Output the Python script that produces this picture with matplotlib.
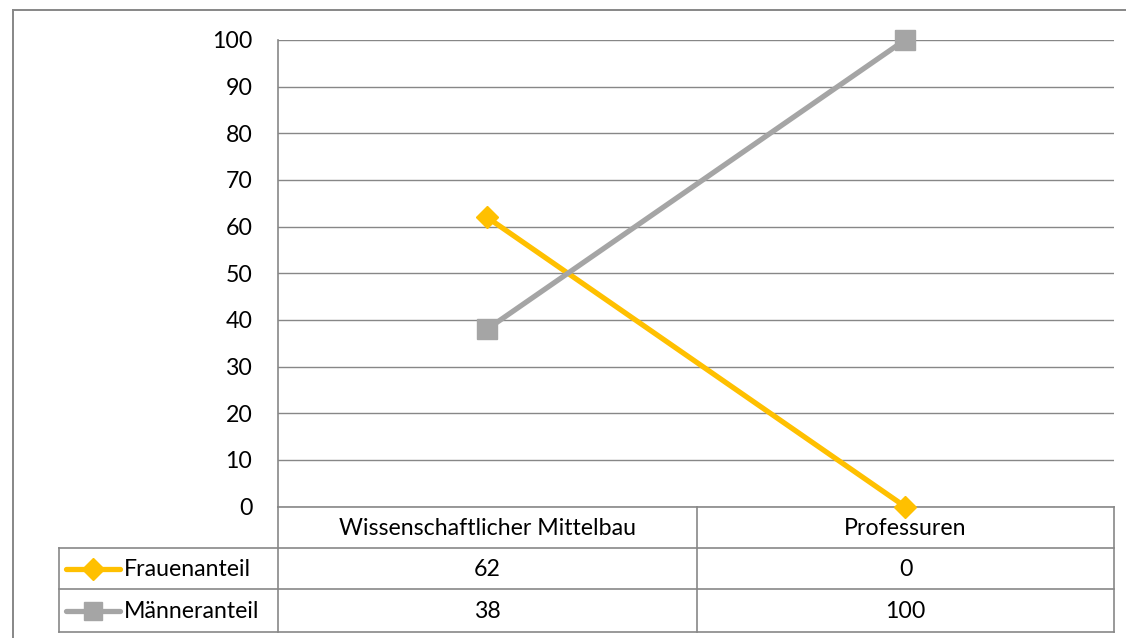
import matplotlib
matplotlib.use("Agg")
import matplotlib.pyplot as plt
from matplotlib.lines import Line2D

# ---- data ----
categories = ["Wissenschaftlicher Mittelbau", "Professuren"]
series_names = ["Frauenanteil", "Männeranteil"]
frauenanteil = [62, 0]
maenneranteil = [38, 100]
y_ticks = [0, 10, 20, 30, 40, 50, 60, 70, 80, 90, 100]

# ---- styling ----
W, H = 1126, 638
GRID = "#878787"
YELLOW = "#FFC000"
GREY = "#A5A5A5"
FONT = "Lato"
FS = 16.7

plt.rcParams["font.family"] = [FONT, "DejaVu Sans"]

fig = plt.figure(figsize=(W / 100, H / 100), dpi=100)


def fx(x):
    return x / W


def fy(y):
    return 1 - y / H


# plot area in pixel coordinates
left, right, top, bottom = 278, 1114, 40, 506.5
ax = fig.add_axes([fx(left), fy(bottom), fx(right) - fx(left), fy(top) - fy(bottom)])
ax.set_xlim(0, len(categories))
ax.set_ylim(0, 100)
ax.set_yticks(y_ticks)
ax.set_yticklabels([str(v) for v in y_ticks], fontsize=FS, color="black")
ax.set_xticks([])
ax.tick_params(axis="y", length=0, pad=18.5)
ax.grid(axis="y", color=GRID, linewidth=1.0)
ax.set_axisbelow(True)
for s in ["top", "right"]:
    ax.spines[s].set_visible(False)
ax.spines["left"].set_color(GRID)
ax.spines["left"].set_linewidth(1.2)
ax.spines["bottom"].set_color(GRID)
ax.spines["bottom"].set_linewidth(1.2)

xpos = [i + 0.5 for i in range(len(categories))]
ax.plot(xpos, frauenanteil, color=YELLOW, linewidth=3.8, marker="D",
        markersize=11.5, clip_on=False, zorder=3, solid_capstyle="butt")
ax.plot(xpos, maenneranteil, color=GREY, linewidth=3.8, marker="s",
        markersize=14.5, clip_on=False, zorder=4, solid_capstyle="butt")


def hline(y, x0, x1, lw=1.2):
    fig.add_artist(Line2D([fx(x0), fx(x1)], [fy(y), fy(y)], color=GRID, linewidth=lw))


def vline(x, y0, y1, lw=1.2):
    fig.add_artist(Line2D([fx(x), fx(x)], [fy(y0), fy(y1)], color=GRID, linewidth=lw))


# outer chart frame
hline(10, 13, W + 5, lw=1.4)
vline(13, 10, H + 5, lw=1.4)

# data table grid
row_tops = [506.5, 548, 589, 632]
col_x = [59, 278, 697, 1114]
hline(548, 59, 1114)
hline(589, 59, 1114)
hline(632, 59, 1114)
vline(59, 548, 632)
vline(278, 506.5, 632)
vline(697, 506.5, 632)
vline(1114, 506.5, 632)

# header row with category names
for i, cat in enumerate(categories):
    cx = (col_x[i + 1] + col_x[i + 2]) / 2
    fig.text(fx(cx), fy((row_tops[0] + row_tops[1]) / 2 + 1.5), cat,
             ha="center", va="center", fontsize=FS)

# value rows with legend keys
rows = [(series_names[0], frauenanteil, YELLOW, "D", 11),
        (series_names[1], maenneranteil, GREY, "s", 13)]
for r, (name, vals, col, mk, ms) in enumerate(rows):
    yc = (row_tops[r + 1] + row_tops[r + 2]) / 2
    fig.add_artist(Line2D([fx(66), fx(120)], [fy(yc), fy(yc)], color=col,
                          linewidth=3.8, solid_capstyle="round"))
    fig.add_artist(Line2D([fx(93)], [fy(yc)], color=col, marker=mk,
                          markersize=ms, linestyle="none"))
    fig.text(fx(124), fy(yc + 1), name, ha="left", va="center", fontsize=FS)
    for i, v in enumerate(vals):
        cx = (col_x[i + 1] + col_x[i + 2]) / 2
        fig.text(fx(cx), fy(yc + 1), str(v), ha="center", va="center", fontsize=FS)

fig.savefig("out.png", dpi=100, facecolor="white")
